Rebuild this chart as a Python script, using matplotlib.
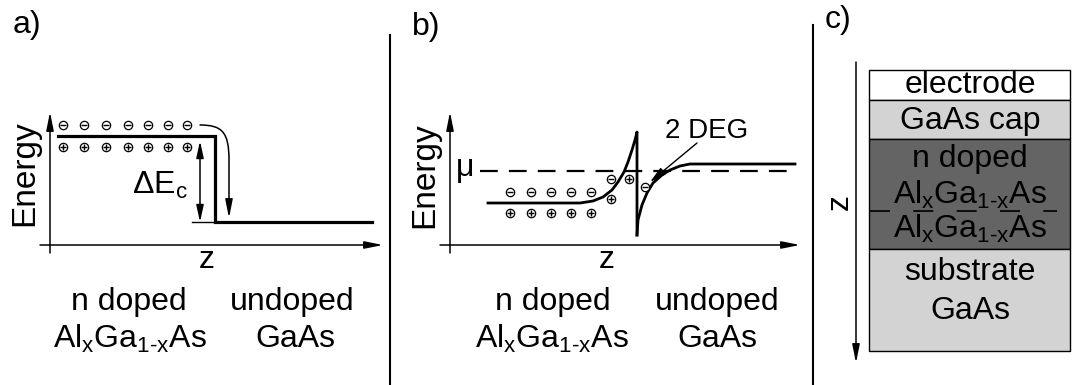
import matplotlib
matplotlib.use('Agg')
import matplotlib.pyplot as plt
from matplotlib.patches import FancyArrowPatch, Rectangle
from matplotlib.path import Path

plt.rcParams['font.family'] = ['Liberation Sans', 'DejaVu Sans']
plt.rcParams['mathtext.fontset'] = 'custom'
plt.rcParams['mathtext.rm'] = 'Liberation Sans'
plt.rcParams['mathtext.it'] = 'Liberation Sans:italic'

ALGAAS = r'Al$_\mathregular{x}$Ga$_\mathregular{1\text{-}x}$As'

# panel a: band edge (pixel positions of the sketch)
a_band_x = [58, 215, 215, 372]
a_band_y = [136, 136, 222, 222]
a_charge_x = [63, 84, 106, 128, 148, 168, 187]
a_minus_y = 125
a_plus_y = 147

# panel b: bent conduction band
b_left_x = [488, 580, 593, 603, 612, 618, 624, 628, 632, 635, 637, 637]
b_left_y = [203, 203, 201, 197, 190, 182, 172, 162, 150, 140, 132, 235]
b_right_x = [637, 638, 642, 647, 653, 662, 670, 680, 690, 700, 795]
b_right_y = [235, 220, 205, 193, 183, 175, 170, 166, 164, 164, 164]
b_mu_y = 171
b_charge_x = [510, 531, 551, 571, 591]
b_minus_y = 192
b_plus_y = 213
b_extra_minus = [(611, 179), (645, 187)]
b_extra_plus = [(629, 179), (611, 199)]

# panel c: layer stack
layers = ['electrode', 'GaAs cap', 'AlGaAs', 'substrate']
layer_top = [70, 100, 139, 249]
layer_bottom = [100, 139, 249, 351]
layer_color = ['white', '#d3d3d3', '#646464', '#d3d3d3']

fig = plt.figure(figsize=(10.72, 3.85), dpi=100)
ax = fig.add_axes([0, 0, 1, 1])
ax.set_xlim(0, 1072)
ax.set_ylim(385, 0)
ax.axis('off')

FS = 23


def arrow(p0, p1, style='-|>', hl=1.1, hw=0.22, lw=1.1):
    a = FancyArrowPatch(p0, p1, arrowstyle='%s,head_length=%s,head_width=%s' % (style, hl, hw),
                        mutation_scale=10, shrinkA=0, shrinkB=0, lw=lw, color='k')
    ax.add_patch(a)


def charges(xs, ys, sign):
    ax.scatter(xs, ys, s=36, facecolor='white', edgecolor='k', lw=0.9, zorder=5)
    ax.scatter(xs, ys, s=14, marker='_' if sign < 0 else '+', color='k', lw=1.0, zorder=6)


# ---- panel a
ax.text(13, 25, 'a)', fontsize=FS, va='center', ha='left')
arrow((50, 253), (50, 112))
arrow((40, 245), (383, 245))
ax.text(25, 173, 'Energy', fontsize=FS + 1, rotation=90, ha='center', va='center')
ax.text(207, 260, 'z', fontsize=FS, ha='center', va='center')
ax.plot(a_band_x, a_band_y, color='k', lw=2.3, solid_joinstyle='miter')
charges(a_charge_x, [a_minus_y] * len(a_charge_x), -1)
charges(a_charge_x, [a_plus_y] * len(a_charge_x), 1)
arrow((200, 141), (200, 222), style='<|-|>', hl=1.0, hw=0.22)
ax.plot([192, 215], [222, 222], color='k', lw=1.0)
ax.text(160, 185, r'$\Delta$E$_\mathregular{c}$', fontsize=FS, ha='center', va='center')
curve = Path([(200, 125), (222, 125), (229, 132), (229, 160), (229, 218)],
             [Path.MOVETO, Path.CURVE4, Path.CURVE4, Path.CURVE4, Path.LINETO])
ax.add_patch(FancyArrowPatch(path=curve, arrowstyle='-|>,head_length=1.1,head_width=0.22',
                             mutation_scale=10, lw=1.1, color='k'))
ax.text(129, 302, 'n doped', fontsize=FS, ha='center', va='center')
ax.text(130, 339, ALGAAS, fontsize=FS, ha='center', va='center')
ax.text(292, 302, 'undoped', fontsize=FS, ha='center', va='center')
ax.text(295, 339, 'GaAs', fontsize=FS, ha='center', va='center')
ax.plot([390, 390], [35, 385], color='k', lw=1.5)

# ---- panel b
ax.text(412, 27, 'b)', fontsize=FS, va='center', ha='left')
arrow((450, 253), (450, 112))
arrow((440, 245), (800, 245))
ax.text(425, 175, 'Energy', fontsize=FS + 1, rotation=90, ha='center', va='center')
ax.text(607, 260, 'z', fontsize=FS, ha='center', va='center')
ax.text(465, 168, 'μ', fontsize=FS, ha='center', va='center')
ax.plot([480, 795], [b_mu_y, b_mu_y], color='k', lw=1.6, dashes=(8, 5))
ax.plot(b_left_x, b_left_y, color='k', lw=2.0)
ax.plot(b_right_x, b_right_y, color='k', lw=2.0)
charges(b_charge_x, [b_minus_y] * len(b_charge_x), -1)
charges(b_charge_x, [b_plus_y] * len(b_charge_x), 1)
charges([p[0] for p in b_extra_minus], [p[1] for p in b_extra_minus], -1)
charges([p[0] for p in b_extra_plus], [p[1] for p in b_extra_plus], 1)
ax.text(707, 131, '2 DEG', fontsize=FS - 3, ha='center', va='center')
arrow((697, 143), (650, 182), hl=1.0, hw=0.25, lw=1.0)
ax.text(553, 302, 'n doped', fontsize=FS, ha='center', va='center')
ax.text(552, 339, ALGAAS, fontsize=FS, ha='center', va='center')
ax.text(717, 302, 'undoped', fontsize=FS, ha='center', va='center')
ax.text(717, 339, 'GaAs', fontsize=FS, ha='center', va='center')
ax.plot([813, 813], [25, 385], color='k', lw=1.5)

# ---- panel c
ax.text(825, 20, 'c)', fontsize=FS, va='center', ha='left')
for name, t, b, c in zip(layers, layer_top, layer_bottom, layer_color):
    ax.add_patch(Rectangle((869, t), 201, b - t, facecolor=c, edgecolor='k', lw=1.0))
arrow((856, 62), (856, 363))
ax.text(840, 202, 'z', fontsize=FS, rotation=90, ha='center', va='center')
ax.plot([870, 1057], [211, 211], color='k', lw=1.2, dashes=(12, 14))
ax.text(970, 85, 'electrode', fontsize=FS, ha='center', va='center')
ax.text(970, 121, 'GaAs cap', fontsize=FS, ha='center', va='center')
ax.text(970, 159, 'n doped', fontsize=FS, ha='center', va='center')
ax.text(970, 195, ALGAAS, fontsize=FS, ha='center', va='center')
ax.text(970, 229, ALGAAS, fontsize=FS, ha='center', va='center')
ax.text(970, 272, 'substrate', fontsize=FS, ha='center', va='center')
ax.text(970, 311, 'GaAs', fontsize=FS, ha='center', va='center')

fig.savefig('out.png', dpi=100)
